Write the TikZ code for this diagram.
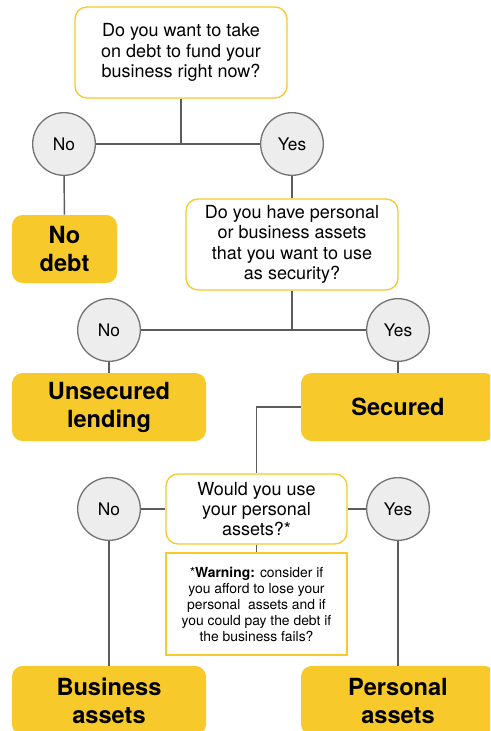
\documentclass[tikz,border=0pt]{standalone}
\usepackage{fontspec}
\setmainfont{TeX Gyre Heros}
\usepackage{xcolor}
\usetikzlibrary{calc}
\definecolor{debtyellow}{HTML}{F7C92B}
\definecolor{answergrey}{HTML}{EDEDED}
\definecolor{linegrey}{HTML}{5C5C5C}
\tikzset{
  question/.style={draw=debtyellow, line width=1pt, fill=white, rounded corners=9pt, align=center,
    inner sep=0pt, font=\fontsize{13.5}{15.3}\selectfont},
  answer/.style={circle, draw=linegrey!85, fill=answergrey, line width=1pt, minimum size=47pt,
    inner sep=0pt, font=\fontsize{13}{14}\selectfont},
  outcome/.style={fill=debtyellow, rounded corners=8pt, align=center, inner sep=0pt,
    font=\bfseries\fontsize{17.7}{21}\selectfont},
  warnbox/.style={draw=debtyellow, line width=1pt, fill=white, align=center, inner sep=0pt,
    font=\fontsize{10.4}{12}\selectfont, minimum width=135.75pt, minimum height=76.5pt},
  link/.style={draw=linegrey, line width=1.1pt}
}

\begin{document}
\begin{tikzpicture}[x=0.75pt, y=-0.75pt]
\useasboundingbox (0,0) rectangle (490,731);
\clip (0,0) rectangle (490,731);

% questions
\node[question, minimum width=159pt, minimum height=68.25pt] (q1) at (181,52.5)
  {Do you want to take\\on debt to fund your\\business right now?};
\node[question, minimum width=159pt, minimum height=68.25pt] (q2) at (292,244.5)
  {Do you have personal\\or business assets\\that you want to use\\as security?};
\node[question, minimum width=135.75pt, minimum height=52.5pt] (q3) at (256.5,509)
  {Would you use\\your personal\\assets?*};
\node[warnbox] (warn) at (256.5,604)
  {*\textbf{Warning:} consider if\\you afford to lose your\\personal\ \ assets and if\\you could pay the debt if\\the business fails?};

% answers
\node[answer] (no1) at (64,144) {No};
\node[answer] (yes1) at (292,144) {Yes};
\node[answer] (no2) at (109,330) {No};
\node[answer] (yes2) at (398,330) {Yes};
\node[answer] (no3) at (109,509) {No};
\node[answer] (yes3) at (398,509) {Yes};

% outcomes
\node[outcome, minimum width=78.75pt, minimum height=51pt] (nodebt) at (64.5,249) {No\\debt};
\node[outcome, minimum width=145.5pt, minimum height=51pt] (unsec) at (109,407) {Unsecured\\lending};
\node[outcome, minimum width=145.5pt, minimum height=51pt] (sec) at (398,407) {Secured};
\node[outcome, minimum width=145.5pt, minimum height=51.75pt] (busi) at (109,700.5) {Business\\assets};
\node[outcome, minimum width=145.5pt, minimum height=51.75pt] (pers) at (398,700.5) {Personal\\assets};

% connectors
\draw[link] (q1.south) -- (q1.south |- no1.center);
\draw[link] (no1) -- (yes1);
\draw[link] (no1) -- (nodebt);
\draw[link] (yes1) -- (q2);
\draw[link] (q2.south) -- (q2.south |- no2.center);
\draw[link] (no2) -- (yes2);
\draw[link] (no2) -- (unsec);
\draw[link] (yes2) -- (sec);
\draw[link] (sec.west) -| (q3.north);
\draw[link] (no3) -- (q3);
\draw[link] (q3) -- (yes3);
\draw[link] (q3) -- (warn);
\draw[link] (no3) -- (busi);
\draw[link] (yes3) -- (pers);
\end{tikzpicture}
\end{document}
